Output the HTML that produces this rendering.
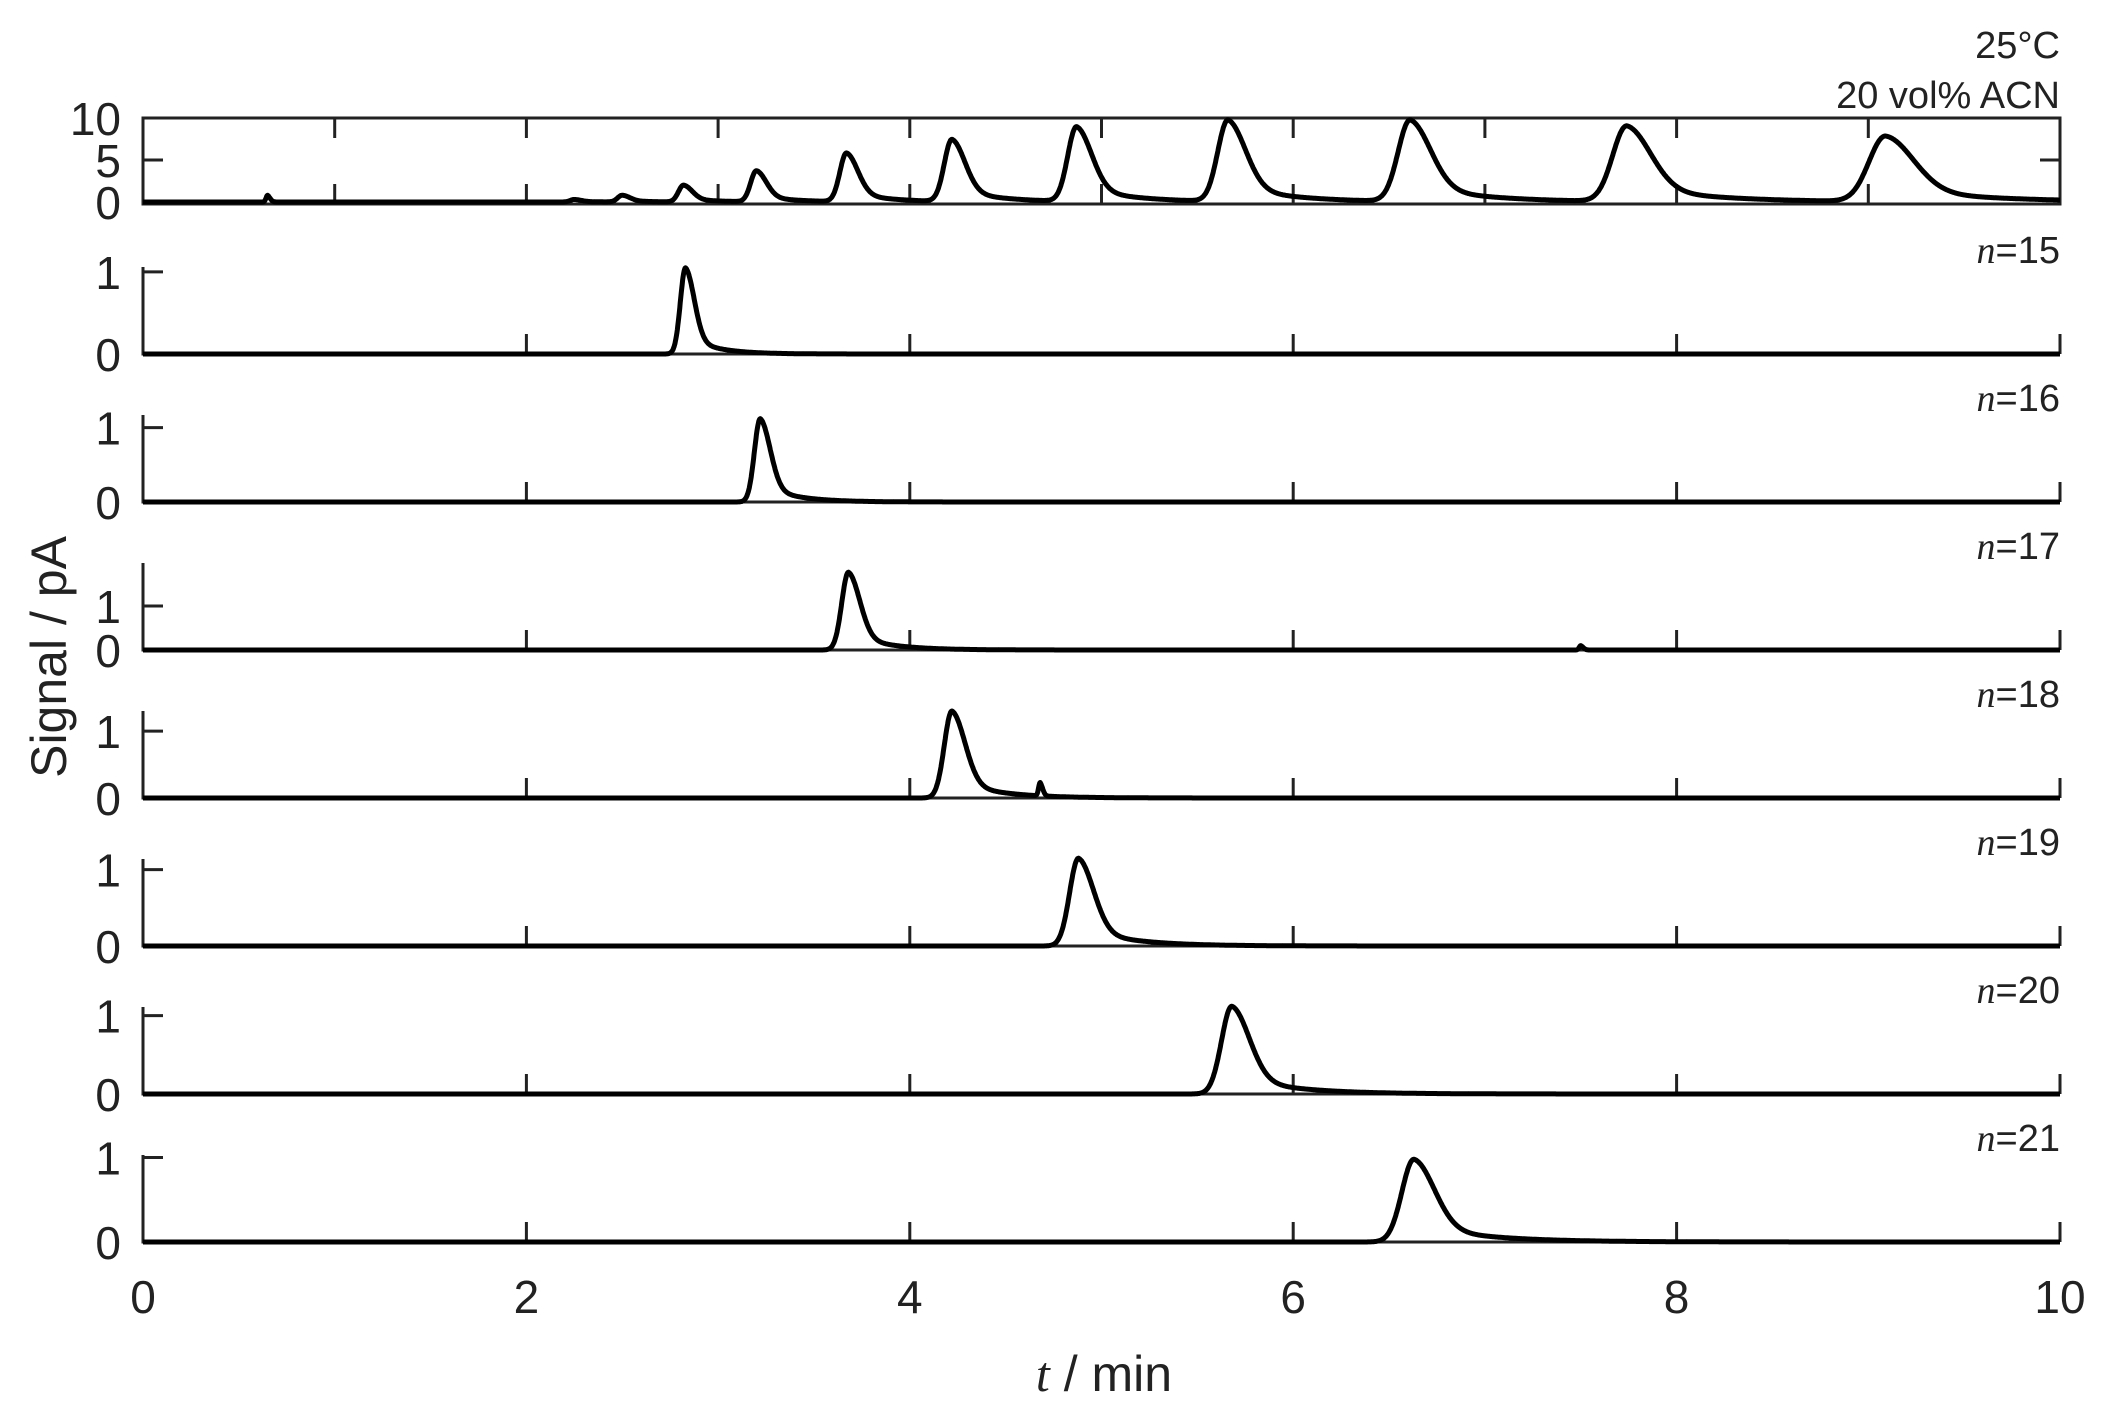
<!DOCTYPE html>
<html><head><meta charset="utf-8">
<style>
html,body{margin:0;padding:0;background:#fff;}
svg{display:block;font-family:"Liberation Sans",Arial,sans-serif;}
</style></head>
<body>
<svg id="chart" width="2112" height="1410" viewBox="0 0 2112 1410" xmlns="http://www.w3.org/2000/svg">
<g id="root"></g>
</svg>
<script>
// ---- data ----
const xTicks = [0, 2, 4, 6, 8, 10];
const xTickLabels = ["0", "2", "4", "6", "8", "10"];
// top mixture panel peaks (retention min, height pA)
const mixTimes = [0.65, 2.25, 2.5, 2.82, 3.2, 3.67, 4.22, 4.87, 5.66, 6.61, 7.74, 9.09];
const mixHeights = [0.8, 0.3, 0.8, 2.0, 3.7, 5.8, 7.4, 8.9, 9.7, 9.7, 9.0, 7.8];
// single-compound panels
const panelLabels = ["15", "16", "17", "18", "19", "20", "21"];
const panelTimes = [2.83, 3.22, 3.68, 4.22, 4.88, 5.68, 6.63];
const panelHeights = [1.05, 1.12, 1.77, 1.3, 1.15, 1.12, 0.98];
const panelYMax = [1.06, 1.17, 1.98, 1.3, 1.14, 1.11, 1.03];
const extraTimes = [null, null, 7.5, 4.68, null, null, null];
const extraHeights = [0, 0, 0.1, 0.2, 0, 0, 0];

// ---- layout ----
const NS = "http://www.w3.org/2000/svg";
const root = document.getElementById("root");
const X0 = 143, X1 = 2060;
const xs = t => X0 + (t / 10) * (X1 - X0);
function el(tag, attrs, parent) {
  const e = document.createElementNS(NS, tag);
  for (const k in attrs) e.setAttribute(k, attrs[k]);
  (parent || root).appendChild(e);
  return e;
}
function peak(t, t0, h, narrow) {
  const s = narrow ? 0.008 : 0.0095 * t0, tau = narrow ? 0.01 : 0.05 * t0;
  const d = t - t0;
  if (d < 0) return h * Math.exp(-0.5 * (d / s) * (d / s));
  return h * (0.78 * Math.exp(-0.5 * (d / (1.7 * s)) ** 2) + 0.22 * Math.exp(-d / tau));
}
function trace(times, heights, ys, narrowIdx) {
  let d = "";
  for (let i = 0; i <= 4000; i++) {
    const t = i * 10 / 4000;
    let v = 0;
    for (let k = 0; k < times.length; k++) if (times[k] !== null) v += peak(t, times[k], heights[k], k === narrowIdx);
    d += (i ? "L" : "M") + xs(t).toFixed(1) + "," + ys(v).toFixed(1);
  }
  return d;
}
const AX = "#222";

// ---- top panel ----
const topG = el("g", {});


const tTop = 118, tBot = 204;
const ysTop = v => 202 - v * 8.4;
const frame = el("rect", {x: X0, y: tTop, width: X1 - X0, height: tBot - tTop, fill: "none", stroke: AX, "stroke-width": 3}, topG);


for (let m = 1; m < 10; m++) {
  const tk = el("path", {d: `M${xs(m)},${tTop}v20M${xs(m)},${tBot}v-20`, stroke: AX, "stroke-width": 3}, topG);
  
  
}
const yt5 = el("path", {d: `M${X0},${ysTop(5)}h20M${X1},${ysTop(5)}h-20`, stroke: AX, "stroke-width": 3}, topG);


[["10", 10], ["5", 5], ["0", 0]].forEach(([s, v]) => {
  const tx = el("text", {x: 121, y: ysTop(v) + 17, "text-anchor": "end", "font-size": 46, fill: AX}, topG);
  tx.textContent = s;
  
  
});
const mixLine = el("path", {d: trace(mixTimes, mixHeights, ysTop, 0), fill: "none", stroke: "#000", "stroke-width": 5, "stroke-linejoin": "round"}, topG);


const l1 = el("text", {x: X1, y: 58, "text-anchor": "end", "font-size": 38, fill: AX}, topG);
l1.textContent = "25°C";


const l2 = el("text", {x: X1, y: 108, "text-anchor": "end", "font-size": 38, fill: AX}, topG);
l2.textContent = "20 vol% ACN";



// ---- single panels ----
for (let i = 0; i < panelLabels.length; i++) {
  const base = 354 + i * 148;
  const unit = 87 / panelYMax[i];
  const ys = v => base - v * unit;
  const g = el("g", {});
  
  
  const ax = el("path", {d: `M${X0},${base - 87}V${base}H${X1}`, fill: "none", stroke: AX, "stroke-width": 3}, g);
  
  
  let td = `M${X0},${ys(1)}h20`;
  for (let k = 1; k < xTicks.length; k++) td += `M${xs(xTicks[k])},${base}v-20`;
  const tk = el("path", {d: td, stroke: AX, "stroke-width": 3}, g);
  
  
  [["1", 1], ["0", 0]].forEach(([s, v]) => {
    const tx = el("text", {x: 121, y: ys(v) + 17, "text-anchor": "end", "font-size": 46, fill: AX}, g);
    tx.textContent = s;
    
    
  });
  const times = [panelTimes[i], extraTimes[i]];
  const hs = [panelHeights[i], extraHeights[i]];
  const ln = el("path", {d: trace(times, hs, ys, 1), fill: "none", stroke: "#000", "stroke-width": 5, "stroke-linejoin": "round"}, g);
  
  
  const lb = el("text", {x: X1, y: base - 91, "text-anchor": "end", "font-size": 38, fill: AX}, g);
  lb.innerHTML = '<tspan font-family="Liberation Serif" font-style="italic">n</tspan>=' + panelLabels[i];
  
  
}

// ---- x tick labels ----
for (let k = 0; k < xTicks.length; k++) {
  const tx = el("text", {x: xs(xTicks[k]), y: 1313, "text-anchor": "middle", "font-size": 46, fill: AX});
  tx.textContent = xTickLabels[k];
  
  
}
const xt = el("text", {x: 1104, y: 1391, "text-anchor": "middle", "font-size": 50, fill: AX});
xt.innerHTML = '<tspan font-family="Liberation Serif" font-style="italic">t</tspan> / min';


const yt = el("text", {x: 0, y: 0, "text-anchor": "middle", "font-size": 50, fill: AX, transform: "translate(66,657) rotate(-90)"});
yt.textContent = "Signal / pA";


</script>
</body></html>
